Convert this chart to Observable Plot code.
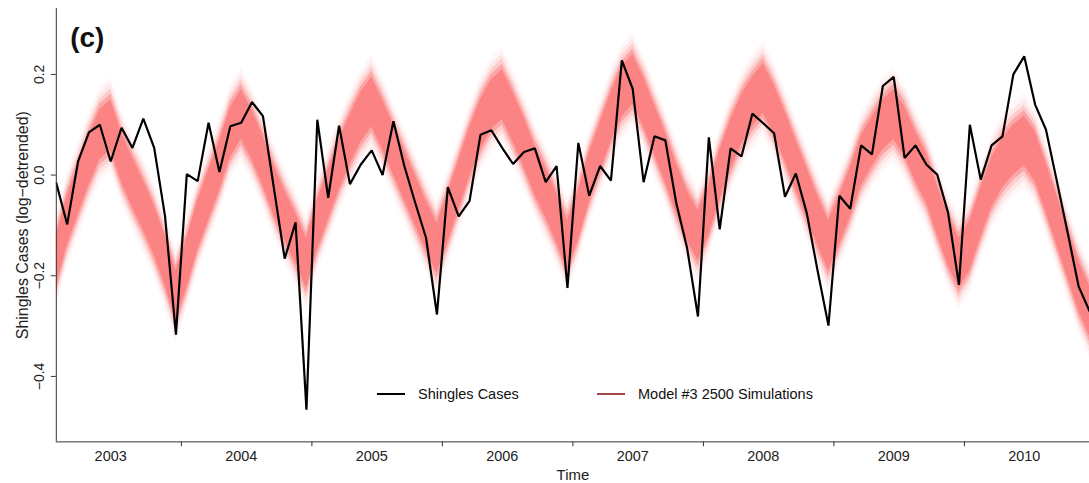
<!DOCTYPE html>
<html>
<head>
<meta charset="utf-8">
<script src="https://cdn.jsdelivr.net/npm/d3@7"></script>
<script src="https://cdn.jsdelivr.net/npm/@observablehq/plot@0.6"></script>
<style>
  html, body { margin: 0; padding: 0; background: #fff; overflow: hidden; }
  #wrap { position: relative; width: 1089px; height: 483px; overflow: hidden; }
  #wrap svg { display: block; }
  .key { position: absolute; display: flex; align-items: center; height: 20px;
         font-family: "Liberation Sans", Arial, Helvetica, sans-serif; font-size: 14.5px; color: #111; }
  .key .swatch { width: 28px; height: 2.4px; margin-right: 13px; }
</style>
</head>
<body>
<div id="wrap"></div>
<script>
// Monthly series, January 2003 to December 2010
const startYear = 2003;

// Observed shingles cases (log-detrended)
const cases = [
  -0.016, -0.098,  0.027,  0.085,  0.100,  0.027,  0.094,  0.054,  0.112,  0.054, -0.082, -0.317,
   0.002, -0.012,  0.104,  0.006,  0.097,  0.104,  0.145,  0.117, -0.025, -0.166, -0.094, -0.466,
   0.110, -0.045,  0.098, -0.018,  0.021,  0.049,  0.000,  0.107,  0.018, -0.055, -0.125, -0.277,
  -0.024, -0.082, -0.051,  0.080,  0.089,  0.054,  0.022,  0.046,  0.053, -0.014,  0.018, -0.224,
   0.064, -0.041,  0.018, -0.011,  0.228,  0.171, -0.014,  0.077,  0.069, -0.055, -0.145, -0.281,
   0.075, -0.108,  0.053,  0.037,  0.122,  0.103,  0.083, -0.043,  0.003, -0.075, -0.190, -0.299,
  -0.041, -0.067,  0.059,  0.041,  0.177,  0.195,  0.034,  0.059,  0.021,  0.001, -0.075, -0.218,
   0.100, -0.009,  0.059,  0.077,  0.200,  0.236,  0.140,  0.090, -0.012, -0.115, -0.221, -0.270
];

// Centre of the Model #3 simulation ensemble
const simMid = [
  -0.170, -0.090, -0.030,  0.030,  0.080,  0.100,  0.035, -0.015, -0.060, -0.110, -0.170, -0.240,
  -0.175, -0.100, -0.040,  0.018,  0.085,  0.120,  0.080,  0.028, -0.030, -0.080, -0.125, -0.175,
  -0.100, -0.040,  0.020,  0.070,  0.115,  0.145,  0.100,  0.050,  0.000, -0.050, -0.100, -0.145,
  -0.085, -0.020,  0.045,  0.100,  0.140,  0.160,  0.115,  0.065,  0.010, -0.035, -0.085, -0.140,
  -0.080, -0.005,  0.055,  0.115,  0.165,  0.190,  0.145,  0.090,  0.035, -0.025, -0.080, -0.120,
  -0.070,  0.000,  0.060,  0.110,  0.145,  0.172,  0.130,  0.077,  0.020, -0.035, -0.090, -0.140,
  -0.090, -0.035,  0.028,  0.066,  0.100,  0.120,  0.087,  0.037, -0.006, -0.070, -0.130, -0.175,
  -0.140, -0.075, -0.015,  0.024,  0.050,  0.068,  0.037, -0.025, -0.090, -0.155, -0.220, -0.270
];
// Typical half-spread of the simulations around the centre
const simHalf = 0.055;

const yearLabels = [2003, 2004, 2005, 2006, 2007, 2008, 2009, 2010];
const yearBreaks = [2004, 2005, 2006, 2007, 2008, 2009, 2010];
const yTicks = [-0.4, -0.2, 0.0, 0.2];

// mid-month time stamps
const rows = cases.map((v, i) => ({
  t: startYear + (i + 0.5) / 12,
  cases: v,
  mid: simMid[i]
}));

const xDomain = [rows[0].t, rows[rows.length - 1].t];
const yDomain = [-0.530, 0.331];

// soft-edged ensemble: nested bands, wider ones fainter
const bandLayers = [
  {k: 1.70, o: 0.05},
  {k: 1.48, o: 0.10},
  {k: 1.28, o: 0.20},
  {k: 1.10, o: 0.35},
  {k: 0.90, o: 0.52}
];

const font = "Liberation Sans, Arial, Helvetica, sans-serif";
const fmt = d3.format(".1f");

const chart = Plot.plot({
  width: 1093,
  height: 483,
  marginLeft: 56,
  marginRight: 0,
  marginTop: 8,
  marginBottom: 40,
  style: {fontFamily: font, color: "#222", background: "#fff"},
  x: {domain: xDomain},
  y: {domain: yDomain},
  marks: [
    ...bandLayers.map(L => Plot.areaY(rows, {
      x: "t",
      y1: d => d.mid - L.k * simHalf,
      y2: d => d.mid + L.k * simHalf,
      fill: "#f96262",
      fillOpacity: L.o,
      clip: true
    })),
    Plot.lineY(rows, {x: "t", y: "cases", stroke: "#000", strokeWidth: 2.2, strokeLinejoin: "miter", clip: true}),
    Plot.ruleX([xDomain[0]], {stroke: "#333", strokeWidth: 1}),
    Plot.ruleY([yDomain[0]], {stroke: "#333", strokeWidth: 1}),
    Plot.axisY(yTicks, {tickSize: 5, tickFormat: () => "", label: null, stroke: "#333"}),
    Plot.axisX(yearBreaks, {tickSize: 5, tickFormat: () => "", label: null, stroke: "#333"}),
    Plot.text(yTicks, {
      y: d => d, text: d => fmt(d), frameAnchor: "left", dx: -17, rotate: -90,
      textAnchor: "middle", lineAnchor: "middle", fontSize: 14, fill: "#222"
    }),
    Plot.text(yearLabels, {
      x: d => d + 5.5 / 12, text: d => String(d), frameAnchor: "bottom", dy: 15,
      textAnchor: "middle", lineAnchor: "middle", fontSize: 14.5, fill: "#222"
    }),
    Plot.text(["Time"], {
      text: d => d, frameAnchor: "bottom", dy: 33,
      textAnchor: "middle", lineAnchor: "middle", fontSize: 15, fill: "#222"
    }),
    Plot.text(["Shingles Cases (log\u2212detrended)"], {
      text: d => d, frameAnchor: "left", dx: -34, rotate: -90,
      textAnchor: "middle", lineAnchor: "middle", fontSize: 16, fill: "#222"
    }),
    Plot.text(["(c)"], {
      text: d => d, frameAnchor: "top-left", dx: 14, dy: 30,
      textAnchor: "start", lineAnchor: "middle", fontSize: 28, fontWeight: "bold", fill: "#111"
    })
  ]
});

const wrap = document.getElementById("wrap");
wrap.appendChild(chart);

// legend inside the plotting area
const legendItems = [
  {label: "Shingles Cases", color: "#000", left: 377},
  {label: "Model #3 2500 Simulations", color: "#a0474a", left: 597}
];
for (const item of legendItems) {
  const k = document.createElement("div");
  k.className = "key";
  k.style.left = item.left + "px";
  k.style.top = "384px";
  const sw = document.createElement("div");
  sw.className = "swatch";
  sw.style.background = item.color;
  const lab = document.createElement("span");
  lab.textContent = item.label;
  k.appendChild(sw);
  k.appendChild(lab);
  wrap.appendChild(k);
}
</script>
</body>
</html>
